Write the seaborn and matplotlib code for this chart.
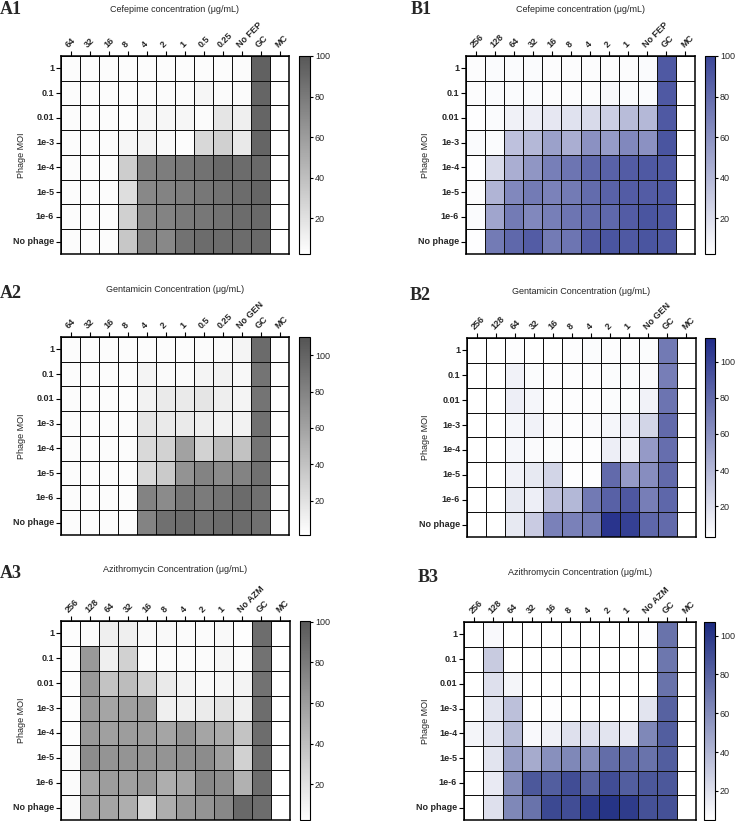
import numpy as np
import pandas as pd
import matplotlib
matplotlib.use("Agg")
import matplotlib.pyplot as plt
from matplotlib.colors import LinearSegmentedColormap
import seaborn as sns

sns.set_theme(style="white")
plt.rcParams['font.family'] = ['Liberation Sans', 'DejaVu Sans']

rows = ["1", "0.1", "0.01", "1e-3", "1e-4", "1e-5", "1e-6", "No phage"]

a1_cols = ["64", "32", "16", "8", "4", "2", "1", "0.5", "0.25", "No FEP", "GC", "MC"]
a1_vals = [
    [4, 4, 4, 4, 4, 4, 4, 4, 4, 5, 95, 2],
    [4, 4, 4, 4, 5, 5, 5, 8, 5, 5, 92, 2],
    [4, 4, 4, 4, 8, 8, 8, 5, 18, 12, 92, 2],
    [4, 4, 4, 8, 10, 6, 4, 25, 30, 15, 92, 2],
    [4, 4, 4, 32, 75, 78, 82, 85, 90, 88, 90, 2],
    [4, 4, 4, 22, 72, 75, 78, 82, 85, 88, 92, 2],
    [4, 4, 4, 30, 72, 75, 80, 82, 85, 88, 90, 2],
    [4, 4, 4, 35, 75, 72, 85, 88, 88, 88, 90, 2],
]

b1_cols = ["256", "128", "64", "32", "16", "8", "4", "2", "1", "No FEP", "GC", "MC"]
b1_vals = [
    [4, 5, 5, 5, 4, 4, 4, 4, 4, 5, 90, 2],
    [4, 5, 5, 5, 4, 4, 4, 6, 5, 5, 90, 2],
    [3, 5, 10, 12, 15, 18, 22, 28, 38, 40, 90, 2],
    [5, 5, 35, 40, 52, 45, 60, 55, 65, 60, 92, 2],
    [3, 22, 45, 58, 70, 75, 82, 85, 88, 90, 90, 2],
    [4, 42, 65, 72, 68, 72, 80, 85, 88, 88, 90, 2],
    [5, 50, 72, 65, 70, 75, 80, 82, 88, 92, 90, 2],
    [3, 72, 82, 88, 72, 75, 88, 92, 90, 92, 90, 2],
]

a2_cols = ["64", "32", "16", "8", "4", "2", "1", "0.5", "0.25", "No GEN", "GC", "MC"]
a2_vals = [
    [3, 3, 3, 3, 3, 3, 3, 4, 5, 8, 95, 2],
    [3, 3, 3, 3, 8, 5, 5, 8, 10, 6, 90, 2],
    [3, 3, 3, 3, 10, 15, 15, 18, 12, 8, 90, 2],
    [3, 3, 3, 4, 18, 15, 15, 12, 10, 10, 92, 2],
    [3, 3, 3, 3, 25, 30, 60, 30, 45, 40, 90, 2],
    [3, 3, 3, 3, 25, 35, 70, 80, 75, 80, 92, 2],
    [3, 3, 3, 3, 80, 75, 88, 85, 90, 95, 92, 2],
    [3, 3, 3, 3, 80, 92, 95, 92, 95, 95, 92, 2],
]

b2_cols = ["256", "128", "64", "32", "16", "8", "4", "2", "1", "No GEN", "GC", "MC"]
b2_vals = [
    [3, 3, 4, 3, 3, 4, 5, 4, 4, 5, 72, 2],
    [3, 3, 10, 5, 4, 4, 4, 5, 5, 6, 70, 2],
    [3, 3, 12, 8, 4, 4, 4, 5, 5, 10, 75, 2],
    [3, 3, 8, 10, 6, 4, 6, 8, 12, 25, 80, 2],
    [3, 3, 8, 6, 5, 4, 4, 12, 10, 55, 78, 2],
    [3, 3, 10, 15, 25, 4, 4, 80, 55, 62, 80, 2],
    [3, 3, 15, 12, 35, 40, 72, 85, 90, 70, 82, 2],
    [3, 3, 15, 30, 68, 68, 72, 108, 102, 82, 80, 2],
]

a3_cols = ["256", "128", "64", "32", "16", "8", "4", "2", "1", "No AZM", "GC", "MC"]
a3_vals = [
    [4, 5, 12, 12, 6, 6, 5, 5, 6, 3, 88, 2],
    [4, 62, 12, 30, 5, 5, 5, 5, 8, 5, 85, 2],
    [4, 62, 38, 42, 30, 15, 10, 6, 8, 10, 85, 2],
    [4, 62, 55, 58, 60, 12, 12, 14, 20, 12, 88, 2],
    [4, 62, 58, 60, 60, 55, 65, 55, 52, 38, 88, 2],
    [5, 70, 65, 65, 65, 65, 68, 70, 58, 30, 88, 2],
    [5, 55, 60, 58, 62, 50, 55, 72, 68, 48, 88, 2],
    [5, 55, 55, 50, 28, 50, 62, 65, 72, 90, 88, 2],
]

b3_cols = ["256", "128", "64", "32", "16", "8", "4", "2", "1", "No AZM", "GC", "MC"]
b3_vals = [
    [3, 8, 4, 3, 5, 4, 4, 3, 4, 6, 72, 2],
    [3, 30, 4, 3, 3, 3, 3, 3, 3, 4, 70, 2],
    [3, 20, 10, 4, 3, 3, 3, 3, 3, 3, 72, 2],
    [5, 18, 35, 3, 6, 3, 5, 4, 3, 18, 80, 2],
    [10, 18, 38, 8, 12, 20, 20, 18, 15, 62, 82, 2],
    [5, 18, 52, 45, 58, 62, 60, 75, 75, 72, 82, 2],
    [5, 15, 60, 85, 82, 90, 80, 90, 82, 85, 85, 2],
    [5, 20, 62, 72, 92, 90, 98, 102, 98, 88, 88, 2],
]

titles = ["Cefepime concentration (\u03bcg/mL)", "Cefepime concentration (\u03bcg/mL)",
          "Gentamicin Concentration (\u03bcg/mL)", "Gentamicin Concentration (\u03bcg/mL)",
          "Azithromycin Concentration (\u03bcg/mL)", "Azithromycin Concentration (\u03bcg/mL)"]
letters = ["A1", "B1", "A2", "B2", "A3", "B3"]

W, H = 735, 821
fig = plt.figure(figsize=(W / 100, H / 100), dpi=100)

panels = [
    dict(cols=a1_cols, vals=a1_vals, hx=(61, 289), hy=(56, 254), cx=(299, 310), vmin=2.4, vmax=100,
         end="#585858", ty=9, lx=0, ly=9, yl=22),
    dict(cols=b1_cols, vals=b1_vals, hx=(466, 695), hy=(56, 254), cx=(705, 715), vmin=2.4, vmax=100,
         end="#3b4698", ty=9, lx=411, ly=10, yl=425),
    dict(cols=a2_cols, vals=a2_vals, hx=(61, 289), hy=(337, 535), cx=(299, 310), vmin=1.2, vmax=110,
         end="#545454", ty=290, lx=0, ly=293, yl=22),
    dict(cols=b2_cols, vals=b2_vals, hx=(467, 696), hy=(338, 537), cx=(705, 715), vmin=3, vmax=113,
         end="#1f2b88", ty=291, lx=410, ly=295, yl=425),
    dict(cols=a3_cols, vals=a3_vals, hx=(61, 290), hy=(621, 820), cx=(300, 310), vmin=2.5, vmax=100.3,
         end="#585858", ty=570, lx=0, ly=573, yl=22),
    dict(cols=b3_cols, vals=b3_vals, hx=(464, 696), hy=(622, 820), cx=(704, 715), vmin=5, vmax=107,
         end="#1b2a80", ty=572, lx=418, ly=577, yl=425),
]

def frac(x0, x1, y0, y1):
    return [x0 / W, 1 - y1 / H, (x1 - x0) / W, (y1 - y0) / H]

for i, p in enumerate(panels):
    ax = fig.add_axes(frac(p["hx"][0], p["hx"][1], p["hy"][0], p["hy"][1]))
    cax = fig.add_axes(frac(p["cx"][0], p["cx"][1], p["hy"][0], p["hy"][1]))
    cmap = LinearSegmentedColormap.from_list("c%d" % i, ["#ffffff", p["end"]])
    df = pd.DataFrame(p["vals"], index=rows, columns=p["cols"])
    sns.heatmap(df, ax=ax, cmap=cmap, vmin=p["vmin"], vmax=p["vmax"], linewidths=0.7,
                linecolor="#111111", cbar_ax=cax, square=False,
                cbar_kws=dict(ticks=[20, 40, 60, 80, 100]))
    ax.xaxis.tick_top()
    ax.tick_params(axis="x", which="both", top=True, bottom=False, length=3.5, width=0.8,
                   pad=1.5, labelsize=6.5, color="black")
    ax.tick_params(axis="y", which="both", left=True, length=3.5, width=0.8, pad=1.5,
                   labelsize=6.5, color="black")
    ax.set_xticklabels(p["cols"], rotation=45, ha="left", va="bottom",
                       rotation_mode="anchor", fontweight="bold")
    ax.set_yticklabels(rows, rotation=0, fontweight="bold")
    ax.set_xlabel("")
    ax.set_ylabel("")
    for s in ax.spines.values():
        s.set_visible(True)
        s.set_color("black")
        s.set_linewidth(1.1)
    cb = ax.collections[0].colorbar
    cb.outline.set_visible(True)
    cb.outline.set_edgecolor("black")
    cb.outline.set_linewidth(0.8)
    cax.tick_params(labelsize=6.5, length=2, width=0.8, pad=1.5, color="black", right=True)
    cx = (p["hx"][0] + p["hx"][1]) / 2
    fig.text(cx / W, 1 - p["ty"] / H, titles[i], ha="center", va="center", fontsize=6.5)
    fig.text(p["lx"] / W, 1 - p["ly"] / H, letters[i], ha="left", va="center", fontsize=13,
             fontweight="bold", family=["Liberation Serif", "DejaVu Serif"])
    fig.text(p["yl"] / W, 1 - (p["hy"][0] + p["hy"][1]) / 2 / H, "Phage MOI", rotation=90,
             ha="center", va="center", fontsize=6.5)

fig.savefig("out.png", dpi=100)
